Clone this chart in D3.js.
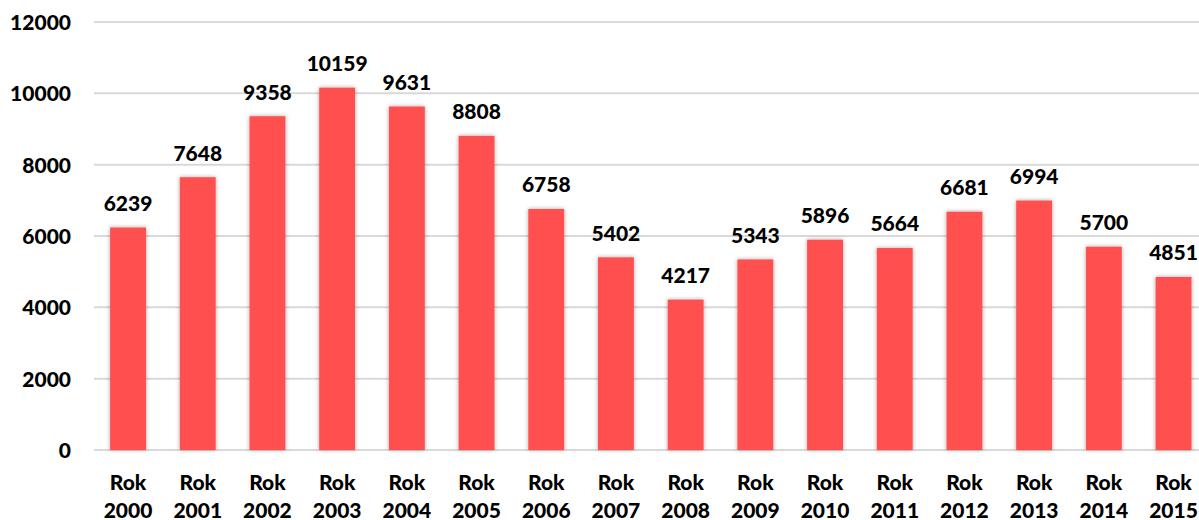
<!DOCTYPE html>
<html>
<head>
<meta charset="utf-8">
<script src="https://cdn.jsdelivr.net/npm/d3@7"></script>
<style>
  html, body { margin: 0; padding: 0; background: #fff; }
  svg text { font-family: Lato, "Open Sans", sans-serif; font-weight: 900; fill: #000; }
</style>
</head>
<body>
<svg id="chart" width="1199" height="520"></svg>
<script>
const years = ["2000","2001","2002","2003","2004","2005","2006","2007","2008","2009","2010","2011","2012","2013","2014","2015"];
const values = [6239, 7648, 9358, 10159, 9631, 8808, 6758, 5402, 4217, 5343, 5896, 5664, 6681, 6994, 5700, 4851];
const yTicks = [0, 2000, 4000, 6000, 8000, 10000, 12000];
const categoryPrefix = "Rok";

const svg = d3.select("#chart");
const defs = svg.append("defs");
const f = defs.append("filter").attr("id", "shadow").attr("x", "-30%").attr("y", "-10%").attr("width", "160%").attr("height", "120%");
f.append("feDropShadow").attr("dx", 0).attr("dy", 0).attr("stdDeviation", 2).attr("flood-color", "#000").attr("flood-opacity", 0.35);

const x = d3.scaleBand().domain(years).range([93.2, 1208.4]).paddingInner(0.485).paddingOuter(0.2425);
const y = d3.scaleLinear().domain([0, 12000]).range([450, 22]);

// gridlines
svg.append("g").selectAll("line").data(yTicks).join("line")
  .attr("x1", 94).attr("x2", 1199)
  .attr("y1", d => y(d)).attr("y2", d => y(d))
  .attr("stroke", "#d9d9d9").attr("stroke-width", 2);

// y axis labels
const yAxis = d3.axisLeft(y).tickValues(yTicks).tickSize(0).tickPadding(0).tickFormat(d3.format("d"));
const ya = svg.append("g").attr("transform", "translate(71,0)").call(yAxis);
ya.select(".domain").remove();
ya.selectAll("text").attr("font-size", 21).attr("font-family", "Lato, 'Open Sans', sans-serif").attr("font-weight", "900").attr("fill", "#000").attr("dy", "0.35em");

// bars
svg.append("g").selectAll("rect").data(values).join("rect")
  .attr("x", (d, i) => x(years[i]))
  .attr("width", x.bandwidth())
  .attr("y", d => y(d))
  .attr("height", d => y(0) - y(d))
  .attr("fill", "#ff5050")
  .attr("filter", "url(#shadow)");

// value labels
svg.append("g").selectAll("text").data(values).join("text")
  .attr("x", (d, i) => x(years[i]) + x.bandwidth() / 2)
  .attr("y", d => y(d) - 16.5)
  .attr("text-anchor", "middle")
  .attr("font-size", 21)
  .text(d => d);

// x labels
const xl = svg.append("g").selectAll("text").data(years).join("text")
  .attr("x", d => x(d) + x.bandwidth() / 2)
  .attr("text-anchor", "middle")
  .attr("font-size", 21);
xl.append("tspan").attr("x", d => x(d) + x.bandwidth() / 2).attr("y", 490).text(categoryPrefix);
xl.append("tspan").attr("x", d => x(d) + x.bandwidth() / 2).attr("y", 518).text(d => d);
</script>
</body>
</html>
